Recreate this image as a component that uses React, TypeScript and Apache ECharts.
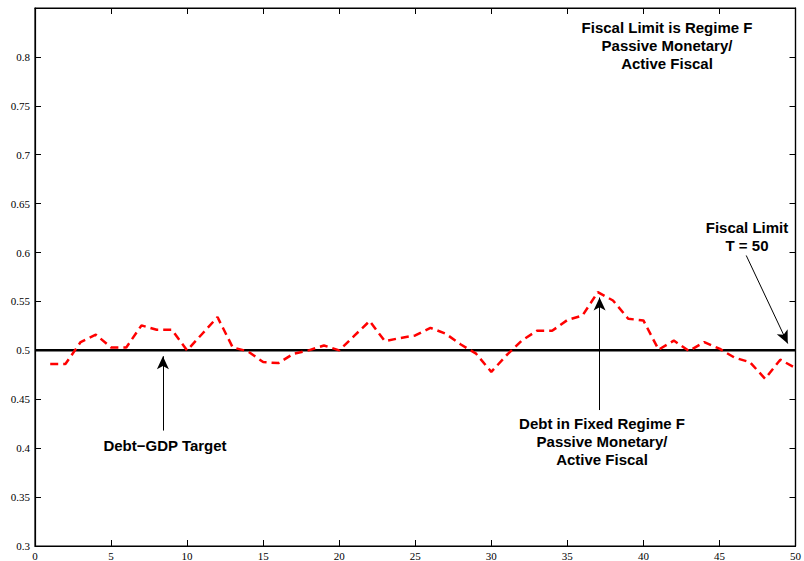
import React, { useEffect, useRef } from "react";
import * as echarts from "echarts";

const periods: number[] = Array.from({ length: 50 }, (_, i) => i + 1);
const debtValues: number[] = [
  0.486, 0.486, 0.5085, 0.516, 0.503, 0.503, 0.5255, 0.521, 0.521, 0.5,
  0.517, 0.534, 0.503, 0.499, 0.488, 0.487, 0.4966, 0.5, 0.505, 0.5,
  0.515, 0.53, 0.5095, 0.5126, 0.5153, 0.523, 0.517, 0.506, 0.4966, 0.478,
  0.495, 0.51, 0.52, 0.52, 0.531, 0.5357, 0.5595, 0.551, 0.5323, 0.5306,
  0.5007, 0.51, 0.4993, 0.5085, 0.5017, 0.4925, 0.488, 0.471, 0.4905, 0.482,
];
const targetX: number[] = [0, 50];
const targetY: number[] = [0.5, 0.5];
const xTicks = { min: 0, max: 50, interval: 5 };
const yTicks = { min: 0.3, max: 0.85, interval: 0.05 };

const arrowDefs: { from: [number, number]; to: [number, number] }[] = [
  { from: [8.41, 0.418], to: [8.41, 0.494] },
  { from: [37.12, 0.439], to: [37.12, 0.554] },
  { from: [46.76, 0.597], to: [49.49, 0.507] },
];

const notes: { text: string; x: number; y: number }[] = [
  { text: "Fiscal Limit is Regime F\nPassive Monetary/\nActive Fiscal", x: 667, y: 18 },
  { text: "Fiscal Limit\nT = 50", x: 747, y: 218 },
  { text: "Debt\u2212GDP Target", x: 165, y: 436 },
  { text: "Debt in Fixed Regime F\nPassive Monetary/\nActive Fiscal", x: 602, y: 414 },
];

const noteFont = "'Liberation Sans', Arial, sans-serif";

export default function App() {
  const ref = useRef<HTMLDivElement>(null);
  useEffect(() => {
    if (!ref.current) return;
    const chart = echarts.init(ref.current, null, { renderer: "svg" });
    const mkLine = () => ({ show: true, onZero: false, lineStyle: { color: "#000", width: 1.2 } });
    const mkTick = () => ({ show: true, inside: true, length: 6, lineStyle: { color: "#000", width: 1 } });
    const labelStyle = {
      color: "#000",
      fontFamily: "'Liberation Serif', 'Times New Roman', serif",
      fontSize: 11,
    };
    chart.setOption({
      animation: false,
      backgroundColor: "#fff",
      grid: {
        left: 35,
        right: 8,
        top: 8,
        bottom: 15,
        containLabel: false,
        show: true,
        borderColor: "#000",
        borderWidth: 1.2,
      },
      xAxis: [
        {
          type: "value",
          gridIndex: 0,
          position: "bottom",
          min: xTicks.min,
          max: xTicks.max,
          interval: xTicks.interval,
          axisLine: mkLine(),
          axisTick: mkTick(),
          axisLabel: { ...labelStyle, margin: 4 },
          splitLine: { show: false },
        },
        {
          type: "value",
          gridIndex: 0,
          position: "top",
          min: xTicks.min,
          max: xTicks.max,
          interval: xTicks.interval,
          axisLine: mkLine(),
          axisTick: mkTick(),
          axisLabel: { show: false },
          splitLine: { show: false },
        },
      ],
      yAxis: [
        {
          type: "value",
          gridIndex: 0,
          position: "left",
          min: yTicks.min,
          max: yTicks.max,
          interval: yTicks.interval,
          axisLine: mkLine(),
          axisTick: mkTick(),
          axisLabel: { ...labelStyle, margin: 5, showMaxLabel: false },
          splitLine: { show: false },
        },
        {
          type: "value",
          gridIndex: 0,
          position: "right",
          min: yTicks.min,
          max: yTicks.max,
          interval: yTicks.interval,
          axisLine: mkLine(),
          axisTick: mkTick(),
          axisLabel: { show: false },
          splitLine: { show: false },
        },
      ],
      series: [
        {
          type: "line",
          xAxisIndex: 0,
          yAxisIndex: 0,
          data: targetX.map((x, i) => [x, targetY[i]]),
          symbol: "none",
          lineStyle: { color: "#000", width: 2.5 },
          z: 2,
        },
        {
          type: "line",
          xAxisIndex: 1,
          yAxisIndex: 1,
          data: [],
          symbol: "none",
        },
        {
          type: "line",
          xAxisIndex: 0,
          yAxisIndex: 0,
          data: periods.map((p, i) => [p, debtValues[i]]),
          symbol: "none",
          lineStyle: { color: "#ff0000", width: 2.5, type: [8, 5] },
          z: 3,
          markLine: {
            silent: true,
            symbol: ["none", "arrow"],
            symbolSize: [9, 13],
            label: { show: false },
            lineStyle: { color: "#000", width: 1, type: "solid" },
            data: arrowDefs.map((a) => [{ coord: a.from }, { coord: a.to }]),
          },
        },
      ],
      graphic: notes.map((n) => ({
        type: "text",
        x: n.x,
        y: n.y,
        style: {
          text: n.text,
          fill: "#000",
          font: `bold 15px ${noteFont}`,
          textAlign: "center",
          textVerticalAlign: "top",
          lineHeight: 18,
        },
      })),
    });
    return () => chart.dispose();
  }, []);
  return (
    <div
      ref={ref}
      style={{ position: "fixed", left: 0, top: 0, width: 804, height: 561, background: "#fff" }}
    />
  );
}
